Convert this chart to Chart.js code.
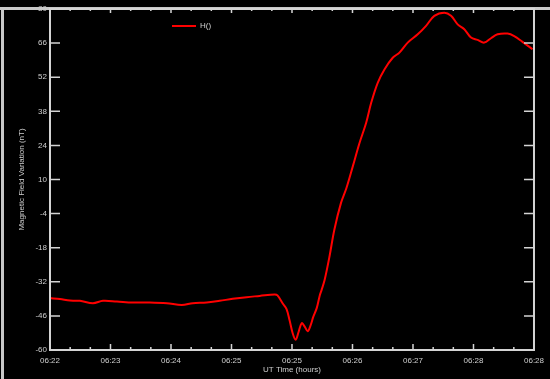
<!DOCTYPE html>
<html>
<head>
<meta charset="utf-8">
<script src="https://cdn.jsdelivr.net/npm/chart.js@4/dist/chart.umd.min.js"></script>
<style>
    body { margin: 0; background: #000; }
</style>
</head>
<body>
<canvas id="magChart" width="550" height="379"></canvas>
<script>
// x positions are in tick intervals from the first label (06:22)
var timeSteps = [0, 0.165, 0.33, 0.495, 0.71, 0.875, 1.106, 1.37, 1.65, 1.931, 2.178, 2.36, 2.59, 2.805,
    3.02, 3.25, 3.465, 3.713, 3.76, 3.85, 3.91, 3.96, 4.01, 4.06, 4.11, 4.16, 4.21, 4.26, 4.31, 4.35,
    4.41, 4.46, 4.49, 4.54, 4.62, 4.70, 4.81, 4.90, 5.005, 5.116, 5.226, 5.309, 5.417, 5.528, 5.665,
    5.776, 5.913, 6.078, 6.216, 6.353, 6.518, 6.629, 6.738, 6.848, 6.959, 7.068, 7.178, 7.289, 7.398,
    7.563, 7.673, 7.81, 7.975];
var hValues = [-38.7, -39.1, -39.7, -39.8, -40.8, -39.8, -40.1, -40.5, -40.5, -40.8, -41.5, -40.8, -40.5, -39.8,
    -39.0, -38.3, -37.8, -37.2, -37.6, -41.0, -43.2, -47.8, -53.0, -55.8, -52.5, -49.0, -50.4, -52.3, -49.7, -46.5,
    -42.7, -37.5, -35.3, -31.2, -21.6, -10.6, 0.4, 6.5, 15.4, 25.0, 33.3, 41.5, 49.7, 55.2, 60.0,
    62.1, 66.2, 69.6, 73.1, 77.2, 78.5, 77.2, 73.7, 71.7, 68.3, 67.3, 66.2, 68.0, 69.6,
    69.9, 68.9, 66.5, 63.5];
var timeLabels = ["06:22", "06:23", "06:24", "06:25", "06:25", "06:26", "06:27", "06:28", "06:28"];
var seriesName = "H()";

var axisColor = "#d4d4d4";
var textColor = "#cfcfcf";
var smallFont = { family: "'Liberation Sans', Arial, sans-serif", size: 8 };

var points = [];
for (var i = 0; i < timeSteps.length; i++) {
    points.push({ x: timeSteps[i], y: hValues[i] });
}

// black background, outer frame, box, inward ticks and legend
var idlFrame = {
    id: "idlFrame",
    beforeDraw: function (chart) {
        var ctx = chart.ctx;
        ctx.save();
        ctx.fillStyle = "#000";
        ctx.fillRect(0, 0, chart.width, chart.height);
        ctx.restore();
    },
    afterDraw: function (chart) {
        var ctx = chart.ctx;
        var a = chart.chartArea;
        var xs = chart.scales.x, ys = chart.scales.y;
        ctx.save();

        // outer window frame
        ctx.fillStyle = "#c8c8c8";
        ctx.fillRect(0, 7, chart.width, 3);
        ctx.fillRect(1, 7, 3, chart.height - 7);

        ctx.strokeStyle = axisColor;
        ctx.lineWidth = 2;
        ctx.strokeRect(a.left, a.top, a.right - a.left, a.bottom - a.top);

        ctx.lineWidth = 1.5;
        ctx.beginPath();
        for (var i = 0; i <= 8; i++) {
            var px = xs.getPixelForValue(i);
            ctx.moveTo(px, a.bottom); ctx.lineTo(px, a.bottom - 6);
            ctx.moveTo(px, a.top); ctx.lineTo(px, a.top + 4);
            if (i < 8) {
                for (var k = 1; k <= 2; k++) {
                    var mx = xs.getPixelForValue(i + k / 3);
                    ctx.moveTo(mx, a.bottom); ctx.lineTo(mx, a.bottom - 3);
                    ctx.moveTo(mx, a.top); ctx.lineTo(mx, a.top + 2);
                }
            }
        }
        ys.ticks.forEach(function (t) {
            var py = ys.getPixelForValue(t.value);
            ctx.moveTo(a.left, py); ctx.lineTo(a.left + 10, py);
            ctx.moveTo(a.right, py); ctx.lineTo(a.right - 10, py);
        });
        ctx.stroke();

        // legend
        var lx = a.left + 122, ly = a.top + 17;
        ctx.strokeStyle = chart.data.datasets[0].borderColor;
        ctx.lineWidth = 2;
        ctx.beginPath();
        ctx.moveTo(lx, ly); ctx.lineTo(lx + 24, ly);
        ctx.stroke();
        ctx.fillStyle = textColor;
        ctx.font = "8px " + smallFont.family;
        ctx.textBaseline = "middle";
        ctx.fillText(chart.data.datasets[0].label, lx + 28, ly);
        ctx.restore();
    }
};

var chart = new Chart(document.getElementById("magChart"), {
    type: "line",
    data: {
        datasets: [{
            label: seriesName,
            data: points,
            borderColor: "#ff0000",
            borderWidth: 2,
            pointRadius: 0,
            fill: false,
            tension: 0.35
        }]
    },
    options: {
        responsive: false,
        devicePixelRatio: 1,
        animation: false,
        layout: { padding: { top: 9, right: 15, left: 0, bottom: 0 } },
        plugins: {
            legend: { display: false },
            tooltip: { enabled: false }
        },
        scales: {
            x: {
                type: "linear",
                min: 0,
                max: 8,
                afterFit: function (scale) { scale.height = 29; },
                grid: { display: false, drawTicks: false },
                border: { display: false },
                ticks: {
                    stepSize: 1,
                    autoSkip: false,
                    maxRotation: 0,
                    padding: 6,
                    color: textColor,
                    font: smallFont,
                    callback: function (value) { return timeLabels[value]; }
                },
                title: {
                    display: true,
                    text: "UT Time (hours)",
                    color: textColor,
                    font: smallFont,
                    padding: { top: 0, bottom: 4 }
                }
            },
            y: {
                min: -60,
                max: 80,
                afterFit: function (scale) { scale.width = 50; },
                grid: { display: false, drawTicks: false },
                border: { display: false },
                ticks: {
                    stepSize: 14,
                    autoSkip: false,
                    padding: 3,
                    color: textColor,
                    font: smallFont
                },
                title: {
                    display: true,
                    text: "Magnetic Field Variation (nT)",
                    color: textColor,
                    font: smallFont,
                    padding: { top: 17, bottom: 0 }
                }
            }
        }
    },
    plugins: [idlFrame]
});
</script>
</body>
</html>
